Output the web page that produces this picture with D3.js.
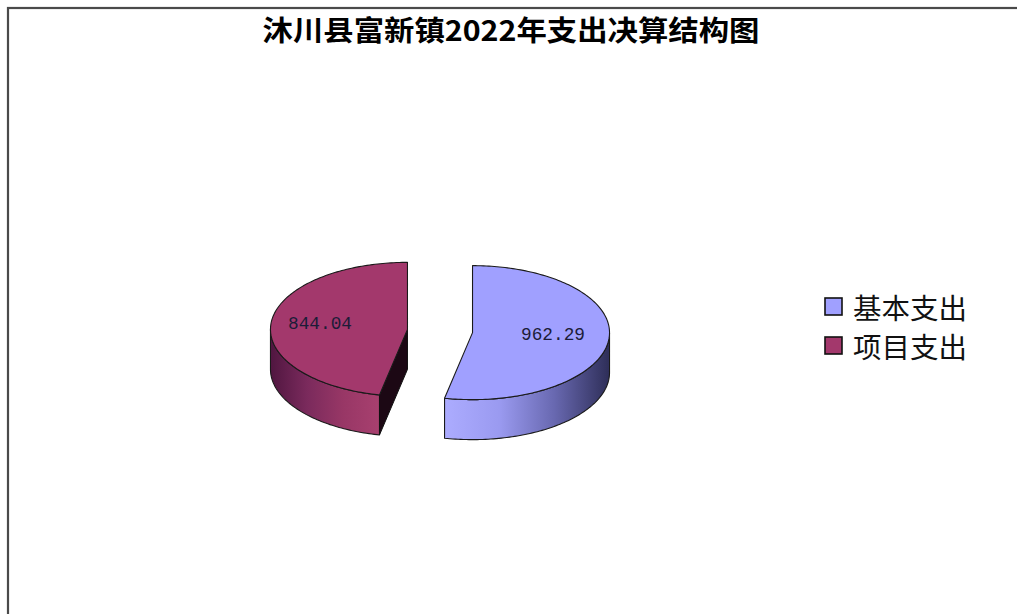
<!DOCTYPE html>
<html>
<head>
<meta charset="utf-8">
<script src="https://cdn.jsdelivr.net/npm/d3@7"></script>
<style>
  body { margin: 0; background: #fff; }
</style>
</head>
<body>
<div id="chartContainer"></div>
<script>
// chart data
var titleText = "沐川县富新镇2022年支出决算结构图";
var categories = ["基本支出", "项目支出"];
var values = [962.29, 844.04];
var labels = ["962.29", "844.04"];
var topColors = ["#a0a0ff", "#a3386c"];
var wallStops = [
  ["#acacff", "#9a9af0", "#6868b0", "#2e2e58"],
  ["#501640", "#7a2a5c", "#983766", "#a8406f"]
];
var cutColors = ["#303060", "#1c0814"];

var W = 1017, H = 614;
var svg = d3.select("#chartContainer").append("svg")
  .attr("width", W).attr("height", H);

// frame, only top and left show in the picture
svg.append("rect")
  .attr("x", 8).attr("y", 8)
  .attr("width", 1030).attr("height", 640)
  .attr("fill", "none").attr("stroke", "#4a4a4a").attr("stroke-width", 2.2);

svg.append("text")
  .attr("x", 511).attr("y", 41)
  .attr("text-anchor", "middle")
  .attr("textLength", 497).attr("lengthAdjust", "spacingAndGlyphs")
  .style("font-family", "'Noto Sans CJK SC', sans-serif")
  .style("font-weight", "bold")
  .style("font-size", "28px")
  .attr("fill", "#000")
  .text(titleText);

// 3D pie settings
var cx = 440, cy = 331, rx = 137, ry = 67, depth = 40, explode = 32.7;

var pie = d3.pie().sort(null).value(function (d) { return d; });
var arcs = pie(values);

function pt(ox, oy, a, dy) {
  return [ox + rx * Math.sin(a), oy - ry * Math.cos(a) + (dy || 0)];
}
function arcPts(ox, oy, a0, a1, dy) {
  var n = Math.max(2, Math.ceil(Math.abs(a1 - a0) / 0.02)), out = [];
  for (var i = 0; i <= n; i++) out.push(pt(ox, oy, a0 + (a1 - a0) * i / n, dy));
  return out;
}
var line = d3.line();
var defs = svg.append("defs");

// draw left slice first, then right (no overlap anyway)
[1, 0].forEach(function (i) {
  var a = arcs[i];
  var mid = (a.startAngle + a.endAngle) / 2;
  var ox = cx + explode * Math.sin(mid);
  var oy = cy - explode * (ry / rx) * Math.cos(mid);
  var g = svg.append("g");

  // outer wall, visible part is between 90 and 270 degrees
  var w0 = Math.max(a.startAngle, Math.PI / 2), w1 = Math.min(a.endAngle, 3 * Math.PI / 2);
  if (w1 > w0) {
    var topPts = arcPts(ox, oy, w0, w1, 0);
    var botPts = arcPts(ox, oy, w1, w0, depth);
    var xs = topPts.map(function (p) { return p[0]; });
    var gid = "wall" + i;
    var grad = defs.append("linearGradient").attr("id", gid)
      .attr("gradientUnits", "userSpaceOnUse")
      .attr("x1", d3.min(xs)).attr("x2", d3.max(xs)).attr("y1", 0).attr("y2", 0);
    wallStops[i].forEach(function (c, k) {
      grad.append("stop").attr("offset", k / (wallStops[i].length - 1)).attr("stop-color", c);
    });
    g.append("path")
      .attr("d", line(topPts.concat(botPts)) + "Z")
      .attr("fill", "url(#" + gid + ")")
      .attr("stroke", "#1a1a1a").attr("stroke-width", 1.1).attr("stroke-linejoin", "round");
  }

  // cut face at start edge (visible when its normal points toward viewer)
  [a.startAngle, a.endAngle].forEach(function (e, k) {
    var nrm = k === 0 ? e - Math.PI / 2 : e + Math.PI / 2;
    if (-Math.cos(nrm) > 0.01) {
      var p = pt(ox, oy, e, 0);
      var quad = [[ox, oy], p, [p[0], p[1] + depth], [ox, oy + depth]];
      g.append("path")
        .attr("d", line(quad) + "Z")
        .attr("fill", cutColors[i])
        .attr("stroke", "#111").attr("stroke-width", 1);
    }
  });

  // top face
  var face = [[ox, oy]].concat(arcPts(ox, oy, a.startAngle, a.endAngle, 0));
  g.append("path")
    .attr("d", line(face) + "Z")
    .attr("fill", topColors[i])
    .attr("stroke", "#1a1a1a").attr("stroke-width", 1.1).attr("stroke-linejoin", "round");
});

// value labels
var labelPos = [[553, 335], [320, 324]];
labels.forEach(function (t, i) {
  svg.append("text")
    .attr("x", labelPos[i][0]).attr("y", labelPos[i][1])
    .attr("text-anchor", "middle").attr("dominant-baseline", "central")
    .attr("textLength", 64).attr("lengthAdjust", "spacingAndGlyphs")
    .style("font-family", "'Liberation Mono', 'DejaVu Sans Mono', monospace")
    .style("font-size", "19px")
    .attr("fill", "#1c1c38")
    .text(t);
});

// legend
categories.forEach(function (c, i) {
  var ly = 298 + i * 39;
  svg.append("rect")
    .attr("x", 825).attr("y", ly).attr("width", 17).attr("height", 17)
    .attr("fill", topColors[i]).attr("stroke", "#111").attr("stroke-width", 1.6);
  svg.append("text")
    .attr("x", 853).attr("y", ly + 9)
    .attr("dominant-baseline", "central")
    .attr("textLength", 114).attr("lengthAdjust", "spacingAndGlyphs")
    .style("font-family", "'Noto Sans CJK SC', sans-serif")
    .style("font-size", "28px")
    .attr("fill", "#111")
    .text(c);
});
</script>
</body>
</html>
